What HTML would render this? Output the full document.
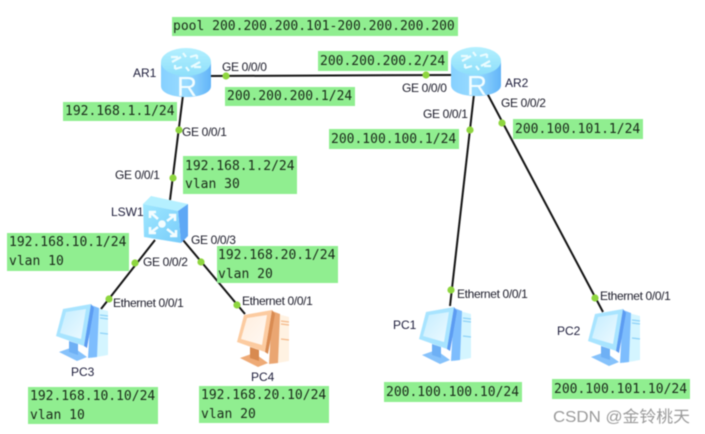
<!DOCTYPE html>
<html><head><meta charset="utf-8"><style>
html,body{margin:0;padding:0;background:#fff}
svg{display:block;filter:blur(.4px)}
.m{font:13px "DejaVu Sans Mono","Liberation Mono",monospace;fill:#1a2a1a}
.l{font:12px "Liberation Sans",sans-serif;fill:#1c1c2a;letter-spacing:-.35px}
.n{font:12px "Liberation Sans",sans-serif;fill:#1c1c3a}
.r{font:28px "Liberation Sans",sans-serif;fill:#f2fdff;text-anchor:middle}
</style></head><body>
<svg width="705" height="434" viewBox="0 0 705 434" xmlns="http://www.w3.org/2000/svg">
<defs>
<linearGradient id="cyl" x1="0" x2="1" y1="0" y2="0"><stop offset="0" stop-color="#86d0ff"/><stop offset=".5" stop-color="#9adcff"/><stop offset="1" stop-color="#62b4f8"/></linearGradient>
<linearGradient id="top" x1="0" x2="0" y1="0" y2="1"><stop offset="0" stop-color="#b4f0ff"/><stop offset="1" stop-color="#8edffa"/></linearGradient>
<linearGradient id="sw" x1="0" x2="1" y1="0" y2="1"><stop offset="0" stop-color="#a0e8ff"/><stop offset="1" stop-color="#78ccfa"/></linearGradient>
<linearGradient id="scr" x1="0" x2="1" y1="0" y2="1"><stop offset="0" stop-color="#c4edff"/><stop offset="1" stop-color="#eefaff"/></linearGradient>
<linearGradient id="scro" x1="0" x2="1" y1="0" y2="1"><stop offset="0" stop-color="#ffeede"/><stop offset="1" stop-color="#fff9f3"/></linearGradient>
</defs>
<g stroke="#141414" stroke-width="2" fill="none">
<line x1="208" y1="76" x2="454" y2="75"/>
<line x1="183" y1="95" x2="170" y2="200"/>
<line x1="155" y1="240" x2="101" y2="309"/>
<line x1="183" y1="240" x2="245" y2="314"/>
<line x1="474" y1="94" x2="450" y2="306"/>
<line x1="487" y1="93" x2="603" y2="312"/>
</g>
<g fill="#8ed63f">
<circle cx="226" cy="76" r="3.6"/><circle cx="426" cy="75" r="3.6"/>
<circle cx="179" cy="130" r="3.6"/><circle cx="173" cy="178" r="3.6"/>
<circle cx="135" cy="263" r="3.6"/><circle cx="109" cy="299" r="3.6"/>
<circle cx="201" cy="262" r="3.6"/><circle cx="237" cy="305" r="3.6"/>
<circle cx="470" cy="130" r="3.6"/><circle cx="451" cy="290" r="3.6"/>
<circle cx="502" cy="123" r="3.6"/><circle cx="595" cy="298" r="3.6"/>
</g>
<g fill="#90ee90">
<rect x="172" y="17" width="286" height="19"/>
<rect x="318" y="51" width="130" height="20"/>
<rect x="225" y="87" width="130" height="19"/>
<rect x="63" y="102" width="114" height="19"/>
<rect x="183" y="156" width="114" height="38"/>
<rect x="329" y="129" width="130" height="20"/>
<rect x="513" y="119" width="130" height="20"/>
<rect x="7" y="233" width="122" height="38"/>
<rect x="217" y="246" width="121" height="37"/>
<rect x="28" y="387" width="130" height="37"/>
<rect x="199" y="386" width="130" height="37"/>
<rect x="384" y="382" width="138" height="20"/>
<rect x="552" y="379" width="138" height="20"/>
</g>
<g>
<text class="m" x="173" y="30">pool 200.200.200.101-200.200.200.200</text>
<text class="m" x="320" y="65">200.200.200.2/24</text>
<text class="m" x="227" y="100">200.200.200.1/24</text>
<text class="m" x="65" y="115">192.168.1.1/24</text>
<text class="m" x="185" y="170">192.168.1.2/24</text>
<text class="m" x="185" y="188">vlan 30</text>
<text class="m" x="331" y="143">200.100.100.1/24</text>
<text class="m" x="515" y="133">200.100.101.1/24</text>
<text class="m" x="9" y="246">192.168.10.1/24</text>
<text class="m" x="9" y="265">vlan 10</text>
<text class="m" x="218" y="259">192.168.20.1/24</text>
<text class="m" x="218" y="278">vlan 20</text>
<text class="m" x="30" y="400">192.168.10.10/24</text>
<text class="m" x="30" y="419">vlan 10</text>
<text class="m" x="201" y="399">192.168.20.10/24</text>
<text class="m" x="201" y="418">vlan 20</text>
<text class="m" x="386" y="396">200.100.100.10/24</text>
<text class="m" x="554" y="393">200.100.101.10/24</text>
</g>
<!-- AR1 -->
<g transform="translate(161,48)">
<path d="M0 14V38C0 45 11 49 25 49S50 45 50 38V14Z" fill="url(#cyl)"/>
<ellipse cx="25" cy="14" rx="25" ry="14" fill="url(#top)"/>
<g stroke="#eafcff" stroke-width="2.2" fill="none"><path d="M11 14l9-5M10 9l7 0M39 14l-9 5M40 19l-7 0M21 19l-7 2M14 17v4M29 9l7-2M36 11v-4M22 5l3 4M28 23l-3-4"/></g>
<text class="r" x="26" y="48">R</text>
</g>
<!-- AR2 -->
<g transform="translate(451,47)">
<path d="M0 14V38C0 45 11 49 25 49S50 45 50 38V14Z" fill="url(#cyl)"/>
<ellipse cx="25" cy="14" rx="25" ry="14" fill="url(#top)"/>
<g stroke="#eafcff" stroke-width="2.2" fill="none"><path d="M11 14l9-5M10 9l7 0M39 14l-9 5M40 19l-7 0M21 19l-7 2M14 17v4M29 9l7-2M36 11v-4M22 5l3 4M28 23l-3-4"/></g>
<text class="r" x="26" y="48">R</text>
</g>
<!-- LSW1 -->
<polygon points="143,204 151,196 188,204 178,211" fill="#b5f0ff"/>
<polygon points="178,211 188,204 188,236 181,243" fill="#5fa8f5"/>
<polygon points="143,204 178,211 181,243 144,237" fill="url(#sw)"/>
<g stroke="#f4fdff" stroke-width="2.6" fill="none">
<path d="M150 212l8 7M150 218v-6h6M175 215l-8 6M175 221v-6h-6M150 233l8-6M150 227v6h6M176 236l-9-7M176 230v6h-6"/>
</g>
<circle cx="162" cy="224" r="3.8" fill="#f4fdff"/>
<!-- PC3 -->
<g transform="translate(40,295)">
<polygon points="53,12 68,16 68,60 51,63" fill="#d4f5ff"/>
<polygon points="51,10 59,13 57,62 48,63" fill="#7dbdfd"/>
<path d="M60 20l8 1M60 23l8 1M60 38l8 1" stroke="#8fd2f8" stroke-width="1.3" fill="none"/>
<polygon points="19,57 33,52 47,62 37,66" fill="#86c2fb"/>
<polygon points="29,46 38,49 38,60 29,57" fill="#6eb0f5"/>
<polygon points="23,14 51,9 44,51 16,41" fill="#a8e4ff"/>
<polygon points="51,9 54,13 47,53 44,51" fill="#5c9cf2"/>
<polygon points="26,17 46,14 41,44 20,38" fill="url(#scr)"/>
</g>
<!-- PC4 -->
<g transform="translate(221,301)">
<polygon points="53,12 68,16 68,60 51,63" fill="#fff2e2"/>
<polygon points="51,10 59,13 57,62 48,63" fill="#eaa672"/>
<path d="M60 20l8 1M60 23l8 1M60 38l8 1" stroke="#f4b98a" stroke-width="1.3" fill="none"/>
<polygon points="19,57 33,52 47,62 37,66" fill="#eeaa76"/>
<polygon points="29,46 38,49 38,60 29,57" fill="#d88a50"/>
<polygon points="23,14 51,9 44,51 16,41" fill="#fccba0"/>
<polygon points="51,9 54,13 47,53 44,51" fill="#d98b52"/>
<polygon points="26,17 46,14 41,44 20,38" fill="url(#scro)"/>
</g>
<!-- PC1 -->
<g transform="translate(403,298)">
<polygon points="53,12 68,16 68,60 51,63" fill="#d4f5ff"/>
<polygon points="51,10 59,13 57,62 48,63" fill="#7dbdfd"/>
<path d="M60 20l8 1M60 23l8 1M60 38l8 1" stroke="#8fd2f8" stroke-width="1.3" fill="none"/>
<polygon points="19,57 33,52 47,62 37,66" fill="#86c2fb"/>
<polygon points="29,46 38,49 38,60 29,57" fill="#6eb0f5"/>
<polygon points="23,14 51,9 44,51 16,41" fill="#a8e4ff"/>
<polygon points="51,9 54,13 47,53 44,51" fill="#5c9cf2"/>
<polygon points="26,17 46,14 41,44 20,38" fill="url(#scr)"/>
</g>
<!-- PC2 -->
<g transform="translate(572,300)">
<polygon points="53,12 68,16 68,60 51,63" fill="#d4f5ff"/>
<polygon points="51,10 59,13 57,62 48,63" fill="#7dbdfd"/>
<path d="M60 20l8 1M60 23l8 1M60 38l8 1" stroke="#8fd2f8" stroke-width="1.3" fill="none"/>
<polygon points="19,57 33,52 47,62 37,66" fill="#86c2fb"/>
<polygon points="29,46 38,49 38,60 29,57" fill="#6eb0f5"/>
<polygon points="23,14 51,9 44,51 16,41" fill="#a8e4ff"/>
<polygon points="51,9 54,13 47,53 44,51" fill="#5c9cf2"/>
<polygon points="26,17 46,14 41,44 20,38" fill="url(#scr)"/>
</g>
<text class="l" x="222" y="71">GE 0/0/0</text>
<text class="l" x="182" y="136">GE 0/0/1</text>
<text class="l" x="115" y="179">GE 0/0/1</text>
<text class="l" x="402" y="92">GE 0/0/0</text>
<text class="l" x="423" y="118">GE 0/0/1</text>
<text class="l" x="501" y="107">GE 0/0/2</text>
<text class="l" x="191" y="244">GE 0/0/3</text>
<text class="l" x="143" y="266">GE 0/0/2</text>
<text class="l" x="113" y="307">Ethernet 0/0/1</text>
<text class="l" x="242" y="305">Ethernet 0/0/1</text>
<text class="l" x="457" y="298">Ethernet 0/0/1</text>
<text class="l" x="600" y="300">Ethernet 0/0/1</text>
<text class="n" x="133" y="77">AR1</text>
<text class="n" x="505" y="87">AR2</text>
<text class="n" x="111" y="216">LSW1</text>
<text class="n" x="71" y="376">PC3</text>
<text class="n" x="251" y="381">PC4</text>
<text class="n" x="393" y="329">PC1</text>
<text class="n" x="557" y="335">PC2</text>
<text x="553" y="422" textLength="137" lengthAdjust="spacingAndGlyphs" style="font:16px 'Liberation Sans','Noto Sans CJK SC',sans-serif;fill:#9a9a9a">CSDN @金铃桃天</text>
</svg>
</body></html>
